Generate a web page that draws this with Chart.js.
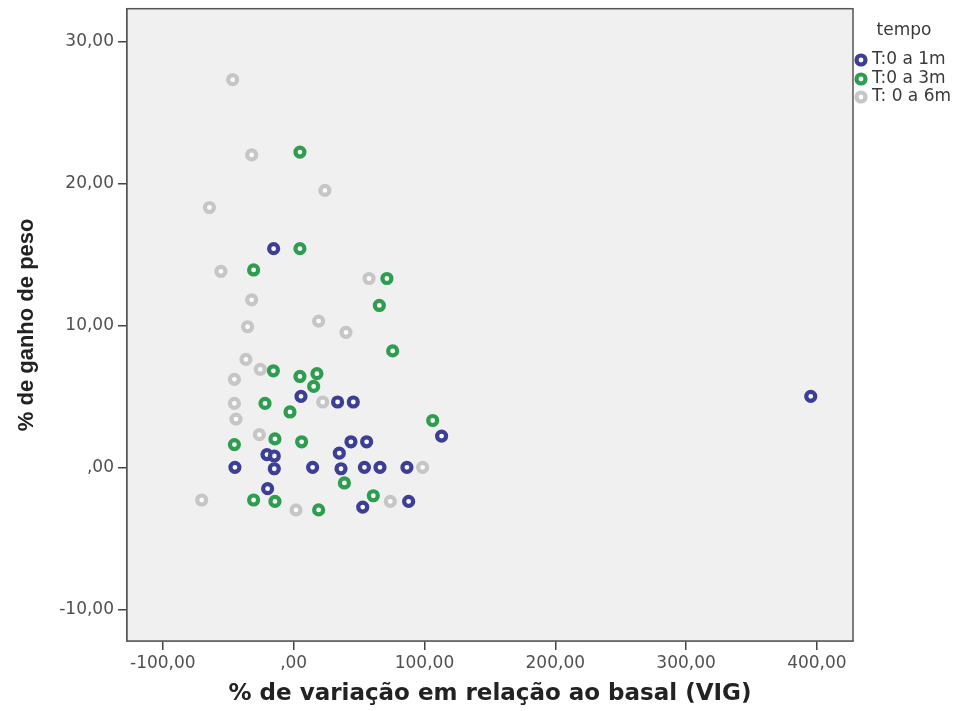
<!DOCTYPE html>
<html>
<head>
<meta charset="utf-8">
<script src="https://cdn.jsdelivr.net/npm/chart.js@4/dist/chart.umd.min.js"></script>
<style>
  body { margin: 0; background: #fff; }
  #wrap { width: 968px; height: 711px; }
</style>
</head>
<body>
<div id="wrap"><canvas id="myChart" width="968" height="711"></canvas></div>
<script>
// series: % variation vs basal (x), % weight gain (y)
const seriesNames = ['T:0 a 1m', 'T:0 a 3m', 'T: 0 a 6m']
const seriesColors = ['#3c3f95', '#2f9d4f', '#c6c6c6']

const t1mX = [-15.3, 5.6, 33.6, 45.6, 113.1, 43.8, 55.8, 34.9, -20.4, -14.8, -44.9, -14.8, 14.5, 36.2, 54.1, 66.0, 86.6, -19.9, 52.8, 87.9, 395.3]
const t1mY = [15.4, 5.0, 4.6, 4.6, 2.2, 1.8, 1.8, 1.0, 0.9, 0.8, 0.0, -0.1, 0.0, -0.1, 0.0, 0.0, 0.0, -1.5, -2.8, -2.4, 5.0]

const t3mX = [4.8, 4.8, -30.6, 71.3, 65.5, 75.7, -15.5, 4.8, 17.8, 15.3, -21.9, -2.8, 106.3, -45.3, -14.3, 6.1, 38.8, -30.6, -14.3, 19.1, 60.9]
const t3mY = [22.2, 15.4, 13.9, 13.3, 11.4, 8.2, 6.8, 6.4, 6.6, 5.7, 4.5, 3.9, 3.3, 1.6, 2.0, 1.8, -1.1, -2.3, -2.4, -3.0, -2.0]

const t6mX = [-46.6, -32.1, 23.9, -64.4, -55.6, 57.6, -32.1, -35.2, 19.1, 40.0, -36.5, -25.5, -45.3, -45.3, -44.1, 22.2, -26.2, 98.6, -70.3, 1.8, 73.9]
const t6mY = [27.3, 22.0, 19.5, 18.3, 13.8, 13.3, 11.8, 9.9, 10.3, 9.5, 7.6, 6.9, 6.2, 4.5, 3.4, 4.6, 2.3, 0.0, -2.3, -3.0, -2.4]

const xTicks = [-100, 0, 100, 200, 300, 400]
const xTickLabels = ['-100,00', ',00', '100,00', '200,00', '300,00', '400,00']
const yTicks = [-10, 0, 10, 20, 30]
const yTickLabels = ['-10,00', ',00', '10,00', '20,00', '30,00']

const toPoints = (xs, ys) => xs.map((x, i) => ({x: x, y: ys[i]}))
const allX = [t1mX, t3mX, t6mX]
const allY = [t1mY, t3mY, t6mY]

// grey series drawn first so the coloured rings sit on top
const order = [2, 1, 0]
const datasets = order.map(i => ({
    label: seriesNames[i],
    data: toPoints(allX[i], allY[i]),
    borderColor: seriesColors[i],
    backgroundColor: 'rgba(255,255,255,0.75)',
    pointRadius: 4.5,
    pointBorderWidth: 4.2,
    pointHoverRadius: 4.5
}))

const plotBox = {
    id: 'plotBox',
    beforeDatasetsDraw(chart) {
        const {ctx, chartArea: a} = chart
        ctx.save()
        ctx.fillStyle = '#f0f0f0'
        ctx.fillRect(a.left, a.top, a.right - a.left, a.bottom - a.top)
        ctx.restore()
    },
    afterDatasetsDraw(chart) {
        const {ctx, chartArea: a} = chart
        ctx.save()
        ctx.strokeStyle = '#555'
        ctx.lineWidth = 1.5
        ctx.strokeRect(a.left, a.top, a.right - a.left, a.bottom - a.top)
        ctx.restore()
    }
}

const sideLegend = {
    id: 'sideLegend',
    afterDraw(chart) {
        const ctx = chart.ctx
        ctx.save()
        ctx.fillStyle = '#3a3a3a'
        ctx.font = '17px "DejaVu Sans"'
        ctx.textAlign = 'center'
        ctx.textBaseline = 'middle'
        ctx.fillText('tempo', 904, 31)
        ctx.textAlign = 'left'
        ctx.font = '17px "DejaVu Sans"'
        const rows = [60, 79, 97]
        seriesNames.forEach((name, i) => {
            ctx.beginPath()
            ctx.arc(861, rows[i], 4.5, 0, Math.PI * 2)
            ctx.fillStyle = 'rgba(255,255,255,0.75)'
            ctx.fill()
            ctx.lineWidth = 4.2
            ctx.strokeStyle = seriesColors[i]
            ctx.stroke()
            ctx.fillStyle = '#3a3a3a'
            ctx.fillText(name, 872, rows[i])
        })
        ctx.restore()
    }
}

const tickFont = {family: 'DejaVu Sans', size: 17}

const myChart = new Chart(document.getElementById('myChart'), {
    type: 'scatter',
    data: {datasets: datasets},
    options: {
        responsive: false,
        animation: false,
        layout: {padding: {top: 8, right: 115, left: 0, bottom: 0}},
        plugins: {
            legend: {display: false},
            tooltip: {enabled: false}
        },
        scales: {
            x: {
                type: 'linear',
                min: -127.4,
                max: 427.6,
                afterBuildTicks: s => { s.ticks = xTicks.map(v => ({value: v})) },
                afterFit: s => { s.height = 70; s.paddingLeft = 0; s.paddingRight = 0 },
                ticks: {
                    callback: (v, i) => xTickLabels[i],
                    font: tickFont,
                    color: '#505050',
                    padding: 3,
                    maxRotation: 0,
                    autoSkip: false
                },
                grid: {drawOnChartArea: false, drawTicks: true, tickLength: 9, color: '#444', lineWidth: 1.5},
                border: {display: true, color: '#555', width: 1.5},
                title: {
                    display: true,
                    text: '% de variação em relação ao basal (VIG)',
                    font: {family: 'DejaVu Sans', weight: 'bold', size: 23},
                    color: '#222',
                    padding: {top: 0, bottom: 3}
                }
            },
            y: {
                type: 'linear',
                min: -12.23,
                max: 32.3,
                afterBuildTicks: s => { s.ticks = yTicks.map(v => ({value: v})) },
                afterFit: s => { s.width = 127; s.paddingTop = 0; s.paddingBottom = 0 },
                ticks: {
                    callback: (v, i) => yTickLabels[i],
                    font: tickFont,
                    color: '#505050',
                    padding: 4,
                    autoSkip: false
                },
                grid: {drawOnChartArea: false, drawTicks: true, tickLength: 9, color: '#444', lineWidth: 1.5},
                border: {display: true, color: '#555', width: 1.5},
                title: {
                    display: true,
                    text: '% de ganho de peso',
                    font: {family: 'Liberation Sans', weight: 'bold', size: 22},
                    color: '#222',
                    padding: {top: 14, bottom: 0}
                }
            }
        }
    },
    plugins: [plotBox, sideLegend]
})
</script>
</body>
</html>
